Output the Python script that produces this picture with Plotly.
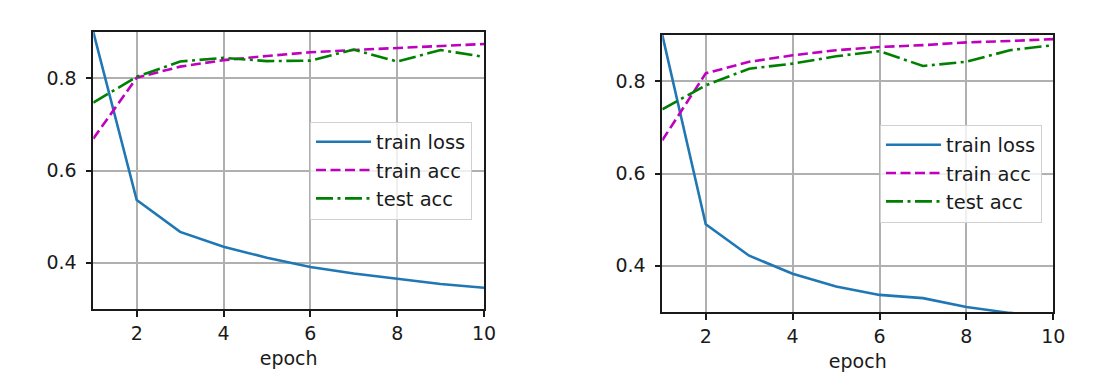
import plotly.graph_objects as go

epochs = [1, 2, 3, 4, 5, 6, 7, 8, 9, 10]

# Left panel
left_train_loss = [0.900, 0.536, 0.467, 0.435, 0.411, 0.391, 0.377, 0.365, 0.354, 0.346]
left_train_acc = [0.669, 0.801, 0.825, 0.839, 0.848, 0.856, 0.861, 0.865, 0.869, 0.874]
left_test_acc = [0.747, 0.803, 0.836, 0.844, 0.837, 0.838, 0.862, 0.836, 0.861, 0.846]

# Right panel
right_train_loss = [0.900, 0.490, 0.422, 0.383, 0.355, 0.337, 0.330, 0.311, 0.298, 0.290]
right_train_acc = [0.672, 0.817, 0.842, 0.856, 0.867, 0.874, 0.878, 0.884, 0.887, 0.891]
right_test_acc = [0.739, 0.791, 0.827, 0.838, 0.854, 0.865, 0.833, 0.842, 0.867, 0.878]

x_ticks = [2, 4, 6, 8, 10]
y_ticks = [0.4, 0.6, 0.8]
x_title = "epoch"
names = ["train loss", "train acc", "test acc"]

BLUE = "#1f77b4"
MAG = "#bf00bf"
GREEN = "#008000"
LW = 2.6
styles = [
    dict(color=BLUE, width=LW, dash="solid"),
    dict(color=MAG, width=LW, dash="10px,4.5px"),
    dict(color=GREEN, width=LW, dash="17px,4.5px,3px,4.5px"),
]

FONT = "DejaVu Sans"
TXT = "#1a1a1a"
fig = go.Figure()

panels = [
    ("x", "y", "legend", [left_train_loss, left_train_acc, left_test_acc]),
    ("x2", "y2", "legend2", [right_train_loss, right_train_acc, right_test_acc]),
]
for xa, ya, lg, series in panels:
    for name, vals, st in zip(names, series, styles):
        fig.add_trace(go.Scatter(x=epochs, y=vals, mode="lines", name=name,
                                 line=st, xaxis=xa, yaxis=ya, legend=lg))

# page body has an 8px margin; size the figure so it sits where the reference does
OFF = 8
W, H = 1106 - OFF, 381 - OFF


def px_x(v):
    return (v - OFF) / W


def px_y(v):
    return 1 - (v - OFF) / H


axis_common = dict(
    showgrid=True, gridcolor="#b0b0b0", gridwidth=1.5,
    showline=True, linecolor="#1a1a1a", linewidth=1.6, mirror=True,
    ticks="outside", ticklen=6, tickwidth=1.5, tickcolor="#1a1a1a",
    tickfont=dict(family=FONT, size=19, color=TXT),
    zeroline=False, automargin=False,
)
xaxis_common = dict(axis_common, range=[1, 10], tickmode="array", tickvals=x_ticks,
                    ticklabelstandoff=0,
                    title=dict(text=x_title, font=dict(family=FONT, size=19, color=TXT), standoff=9))
yaxis_common = dict(axis_common, range=[0.3, 0.9], tickmode="array", tickvals=y_ticks,
                    ticklabelstandoff=5,
                    ticktext=[f"{v:.1f}" for v in y_ticks])

legend_common = dict(
    bgcolor="rgba(255,255,255,0.8)", bordercolor="#d0d0d0", borderwidth=1,
    font=dict(family=FONT, size=19.5, color=TXT),
    xanchor="left", yanchor="top", itemwidth=55,
)

fig.update_layout(
    width=W, height=H,
    margin=dict(l=0, r=0, t=0, b=0, autoexpand=False),
    paper_bgcolor="white", plot_bgcolor="white",
    xaxis=dict(xaxis_common, domain=[px_x(93.3), px_x(484)], anchor="y"),
    yaxis=dict(yaxis_common, domain=[px_y(309), px_y(32)], anchor="x"),
    xaxis2=dict(xaxis_common, domain=[px_x(662.3), px_x(1053.3)], anchor="y2"),
    yaxis2=dict(yaxis_common, domain=[px_y(312), px_y(35)], anchor="x2"),
    legend=dict(legend_common, x=px_x(310), y=px_y(121.5)),
    legend2=dict(legend_common, x=px_x(880), y=px_y(124.5)),
    showlegend=True,
)

fig.write_html("out.html")
